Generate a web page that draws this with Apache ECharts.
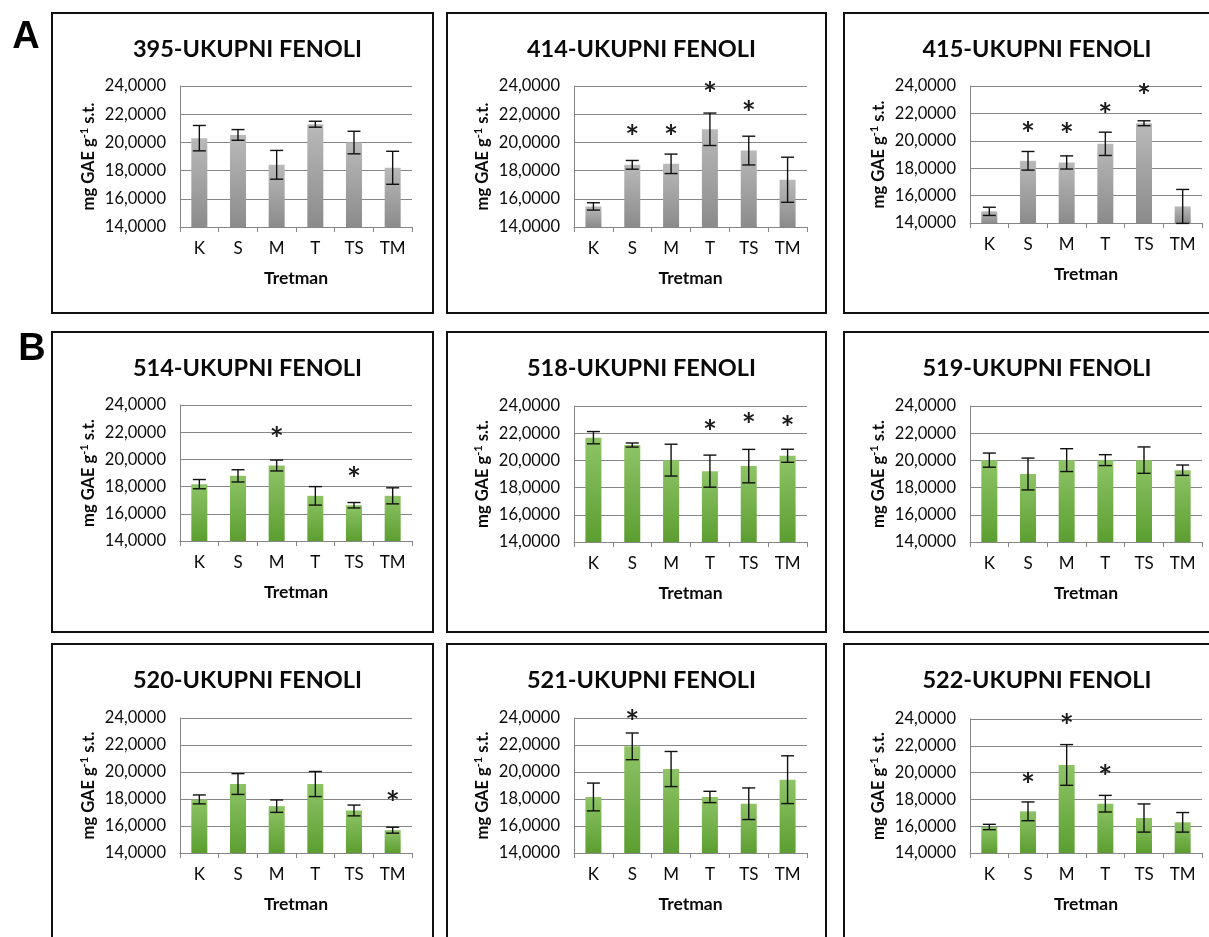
<!DOCTYPE html>
<html>
<head>
<meta charset="utf-8">
<script src="https://cdn.jsdelivr.net/npm/echarts@6/dist/echarts.min.js"></script>
<style>
  html, body { margin: 0; padding: 0; background: #fff; }
  #chart { width: 1209px; height: 937px; }
</style>
</head>
<body>
<div id="chart"></div>
<script>
// Treatments on the x axis
const categories = ['K', 'S', 'M', 'T', 'TS', 'TM'];
// Value axis range (mg GAE per g dry matter)
const axisMin = 14, axisMax = 24, axisStep = 2;

// Mean total phenolics, standard errors and asterisk levels (null = no asterisk)
const mean395 = [20.30, 20.53, 18.41, 21.29, 19.99, 18.20];
const err395  = [0.90, 0.38, 1.02, 0.21, 0.80, 1.17];
const star395 = [null, null, null, null, null, null];

const mean414 = [15.46, 18.41, 18.48, 20.93, 19.42, 17.35];
const err414  = [0.26, 0.31, 0.69, 1.15, 1.02, 1.60];
const star414 = [null, 20.8, 20.8, 23.8, 22.5, null];

const mean415 = [14.85, 18.54, 18.42, 19.78, 21.28, 15.21];
const err415  = [0.30, 0.68, 0.48, 0.85, 0.18, 1.24];
const star415 = [null, 20.9, 20.8, 22.3, 23.7, null];

const mean514 = [18.18, 18.79, 19.55, 17.32, 16.63, 17.32];
const err514  = [0.34, 0.45, 0.40, 0.68, 0.20, 0.59];
const star514 = [null, null, 21.9, null, 19.0, null];

const mean518 = [21.67, 21.13, 20.02, 19.21, 19.58, 20.34];
const err518  = [0.45, 0.15, 1.17, 1.18, 1.23, 0.48];
const star518 = [null, null, null, 22.5, 23.0, 22.8];

const mean519 = [20.02, 19.00, 20.02, 20.02, 20.02, 19.28];
const err519  = [0.52, 1.17, 0.84, 0.40, 0.97, 0.38];
const star519 = [null, null, null, null, null, null];

const mean520 = [17.97, 19.11, 17.47, 19.11, 17.15, 15.69];
const err520  = [0.33, 0.77, 0.46, 0.93, 0.40, 0.22];
const star520 = [null, null, null, null, null, 18.1];

const mean521 = [18.15, 21.90, 20.22, 18.15, 17.65, 19.43];
const err521  = [1.03, 0.99, 1.30, 0.42, 1.17, 1.77];
const star521 = [null, 24.15, null, null, null, null];

const mean522 = [15.94, 17.11, 20.57, 17.68, 16.61, 16.29];
const err522  = [0.20, 0.70, 1.52, 0.62, 1.05, 0.73];
const star522 = [null, 19.5, 23.9, 20.1, null, null];

const panels = [
  { title: '395-UKUPNI FENOLI', mean: mean395, err: err395, star: star395, tone: 'gray' },
  { title: '414-UKUPNI FENOLI', mean: mean414, err: err414, star: star414, tone: 'gray' },
  { title: '415-UKUPNI FENOLI', mean: mean415, err: err415, star: star415, tone: 'gray' },
  { title: '514-UKUPNI FENOLI', mean: mean514, err: err514, star: star514, tone: 'green' },
  { title: '518-UKUPNI FENOLI', mean: mean518, err: err518, star: star518, tone: 'green' },
  { title: '519-UKUPNI FENOLI', mean: mean519, err: err519, star: star519, tone: 'green' },
  { title: '520-UKUPNI FENOLI', mean: mean520, err: err520, star: star520, tone: 'green' },
  { title: '521-UKUPNI FENOLI', mean: mean521, err: err521, star: star521, tone: 'green' },
  { title: '522-UKUPNI FENOLI', mean: mean522, err: err522, star: star522, tone: 'green' }
];

// Layout: framed boxes and plot areas for the 3 x 3 layout
const boxCols = [[52, 433], [447, 826], [844, 1232]];
const boxRows = [[13, 313], [332, 632], [644, 962]];
const plotLeft = [180, 574, 970];
const plotWidth = [232, 233, 232];
const plotTop = [[86, 86, 86], [405, 406, 406], [718, 718, 719]];
const plotHeight = [[141, 141, 137], [136, 136, 136], [135, 135, 134]];

const FONT = 'Lato, "Open Sans", sans-serif';
const TEXT = '#0a0a0a';
const gridColor = '#868686';

const fills = {
  gray: new echarts.graphic.LinearGradient(0, 0, 0, 1, [
    { offset: 0, color: '#b9b9b9' }, { offset: 1, color: '#8b8b8b' }
  ]),
  green: new echarts.graphic.LinearGradient(0, 0, 0, 1, [
    { offset: 0, color: '#8ec466' }, { offset: 1, color: '#5c9e31' }
  ])
};

const grids = [], xAxes = [], yAxes = [], series = [], titles = [], graphics = [];

panels.forEach((p, i) => {
  const r = Math.floor(i / 3), c = i % 3;
  grids.push({
    left: plotLeft[c], top: plotTop[r][c],
    width: plotWidth[c], height: plotHeight[r][c],
    containLabel: false, outerBoundsMode: 'none'
  });
  xAxes.push({
    type: 'category', gridIndex: i, data: categories,
    axisLine: { show: true, lineStyle: { color: gridColor, width: 1 } },
    axisTick: { show: true, length: 5, lineStyle: { color: gridColor } },
    axisLabel: { fontFamily: FONT, fontSize: 17, color: TEXT, margin: 13 },
    name: 'Tretman', nameLocation: 'middle', nameGap: 42,
    nameTextStyle: { fontFamily: FONT, fontSize: 17.5, fontWeight: 'bold', color: TEXT }
  });
  yAxes.push({
    type: 'value', gridIndex: i, min: axisMin, max: axisMax, interval: axisStep,
    axisLine: { show: true, lineStyle: { color: gridColor, width: 1 } },
    axisTick: { show: false },
    splitLine: { show: true, lineStyle: { color: gridColor, width: 1 } },
    axisLabel: {
      fontFamily: FONT, fontSize: 16.5, color: TEXT, margin: 14,
      formatter: v => v.toFixed(4).replace('.', ',')
    },
    name: 'mg GAE g{sup|-1} s.t.', nameLocation: 'middle', nameGap: 81,
    nameTextStyle: {
      fontFamily: FONT, fontSize: 16.5, fontWeight: 'bold', color: TEXT, lineHeight: 20,
      rich: { sup: { fontFamily: FONT, fontSize: 11, fontWeight: 'bold', color: TEXT, verticalAlign: 'top', lineHeight: 20 } }
    }
  });
  titles.push({
    text: p.title,
    left: (boxCols[c][0] + boxCols[c][1]) / 2 + (c === 2 ? -6 : 0),
    top: [32, 351, 663][r],
    textAlign: 'center',
    textStyle: { fontFamily: FONT, fontSize: 23.5, fontWeight: 'bold', color: TEXT }
  });
  series.push({
    type: 'bar', xAxisIndex: i, yAxisIndex: i, data: p.mean, z: 2,
    barWidth: 16, itemStyle: { color: fills[p.tone] }, silent: true, animation: false
  });
  series.push({
    type: 'custom', xAxisIndex: i, yAxisIndex: i, animation: false, silent: true, z: 5,
    data: p.mean.map((m, k) => [k, m, p.err[k]]),
    encode: { x: 0, y: 1 },
    renderItem: (params, api) => {
      const k = api.value(0), m = api.value(1), e = api.value(2);
      const hi = api.coord([k, m + e]), lo = api.coord([k, m - e]);
      const cap = 6.5, st = { stroke: '#111', lineWidth: 1.4 };
      return {
        type: 'group', children: [
          { type: 'line', shape: { x1: hi[0], y1: hi[1], x2: lo[0], y2: lo[1] }, style: st },
          { type: 'line', shape: { x1: hi[0] - cap, y1: hi[1], x2: hi[0] + cap, y2: hi[1] }, style: st },
          { type: 'line', shape: { x1: lo[0] - cap, y1: lo[1], x2: lo[0] + cap, y2: lo[1] }, style: st }
        ]
      };
    }
  });
  const starData = p.star.map((s, k) => [k, s]).filter(d => d[1] !== null);
  if (starData.length) {
    series.push({
      type: 'custom', xAxisIndex: i, yAxisIndex: i, animation: false, silent: true, z: 5,
      clip: false, data: starData, encode: { x: 0, y: 1 },
      renderItem: (params, api) => {
        const pt = api.coord([api.value(0), api.value(1)]);
        return {
          type: 'text', x: pt[0], y: pt[1] + 7,
          style: { text: '*', fontFamily: FONT, fontSize: 33, fontWeight: 'bold', fill: '#1a1a1a', align: 'center', verticalAlign: 'middle' }
        };
      }
    });
  }
});

// Frames around each panel
boxRows.forEach(([y0, y1]) => {
  boxCols.forEach(([x0, x1]) => {
    graphics.push({
      type: 'rect', shape: { x: x0, y: y0, width: x1 - x0, height: y1 - y0 },
      style: { fill: 'none', stroke: '#111', lineWidth: 2 }, silent: true
    });
  });
});
// Group letters
graphics.push({ type: 'text', x: 26, y: 38, style: { text: 'A', fontFamily: '"Liberation Sans", Arial, sans-serif', fontSize: 38, fontWeight: 'bold', fill: '#000', align: 'center', verticalAlign: 'middle' } });
graphics.push({ type: 'text', x: 32, y: 350, style: { text: 'B', fontFamily: '"Liberation Sans", Arial, sans-serif', fontSize: 38, fontWeight: 'bold', fill: '#000', align: 'center', verticalAlign: 'middle' } });

const chart = echarts.init(document.getElementById('chart'), null, { renderer: 'canvas' });
chart.setOption({
  backgroundColor: '#fff',
  animation: false,
  title: titles,
  grid: grids,
  xAxis: xAxes,
  yAxis: yAxes,
  series: series,
  graphic: graphics
});
</script>
</body>
</html>
